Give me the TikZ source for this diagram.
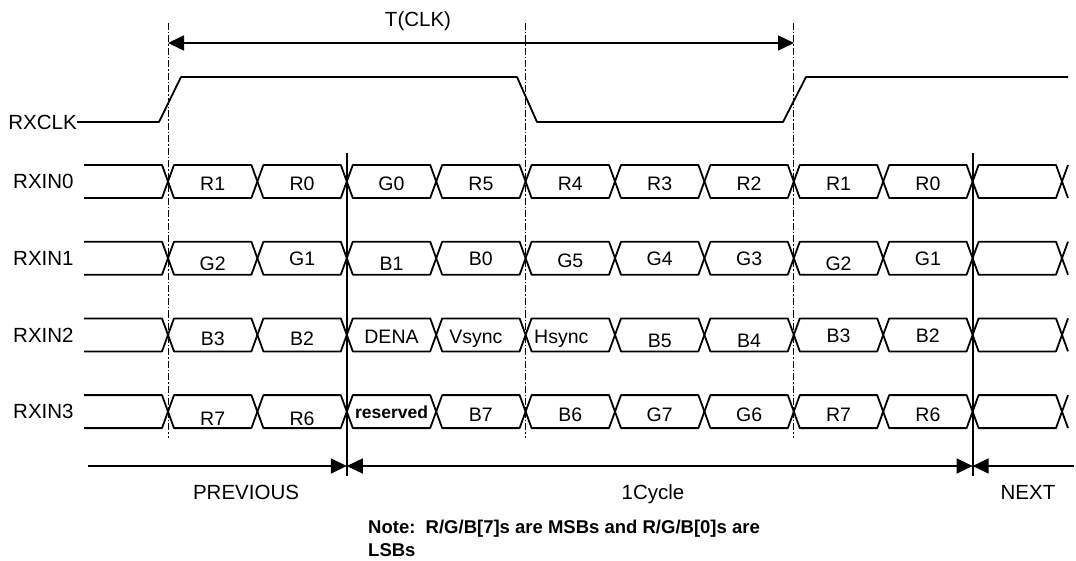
\documentclass[tikz,border=0pt]{standalone}
\usepackage{fontspec}
\setmainfont{Liberation Sans}
\usetikzlibrary{arrows.meta,calc}

\tikzset{
  wave/.style={line width=1.8pt, line join=round},
  marker/.style={line width=1pt, dash pattern=on 7pt off 2pt on 1.5pt off 2pt},
  border/.style={line width=1.8pt},
  span/.style={line width=1.6pt},
  sig/.style={inner sep=0pt, font=\fontsize{20.5}{24}\selectfont},
  cell/.style={inner sep=0pt, anchor=base, font=\fontsize{19.5}{22}\selectfont},
  note/.style={inner sep=0pt, anchor=north west, align=left, font=\fontsize{18.5}{23}\selectfont\bfseries}
}

\begin{document}
\begin{tikzpicture}[x=1pt, y=-1pt, >={Triangle[length=16pt,width=15pt]}]
\useasboundingbox (0,0) rectangle (1076,561);

\node[sig, anchor=east] (clk) at (77,122) {RXCLK};
\draw[wave] (clk.east) -- (159,122) -- (181,77) -- (517,77) -- (537,122) -- (783,122) -- (806,77) -- (1068,77);

\foreach \k in {0,4,7}
  \draw[marker] (168+89.4*\k,23) -- (168+89.4*\k,438);

\coordinate (tl) at (168,43);
\coordinate (tr) at (794,43);
\draw[span, <->] (tl) -- (tr);
\node[sig, anchor=base] (tclk) at (418,27) {T(CLK)};

\foreach \r/\name in {0/RXIN0,1/RXIN1,2/RXIN2,3/RXIN3} {
  \pgfmathsetmacro{\yc}{181.5+76.7*\r}
  \node[sig, anchor=west] (in\r) at (13,\yc) {\name};
  \draw[wave] (84,\yc-16.5) -- (162,\yc-16.5) -- (168,\yc) -- (162,\yc+16.5) -- (84,\yc+16.5);
  \foreach \k in {0,...,9} {
    \pgfmathsetmacro{\a}{168+89.4*\k}
    \pgfmathsetmacro{\b}{\a+89.4}
    \draw[wave] (\a,\yc) -- (\a+6,\yc-16.5) -- (\b-6,\yc-16.5) -- (\b,\yc) -- (\b-6,\yc+16.5) -- (\a+6,\yc+16.5) -- cycle;
  }
  \draw[wave] (1068,\yc-16.5) -- (1062,\yc) -- (1068,\yc+16.5);
}

\foreach \txt/\dy [count=\k from 0] in {R1/9,R0/9,G0/9,R5/9,R4/9,R3/9,R2/9,R1/9,R0/9}
  \node[cell] (a\k) at (212.7+89.4*\k,181.5+\dy) {\txt};
\foreach \txt/\dy [count=\k from 0] in {G2/12,G1/7,B1/12,B0/7,G5/9,G4/7,G3/7,G2/12,G1/7}
  \node[cell] (b\k) at (212.7+89.4*\k,258.2+\dy) {\txt};
\foreach \txt/\dx/\dy [count=\k from 0] in {B3/0/11,B2/0/11,DENA/0/9,Vsync/-5/9,Hsync/-9/9,B5/0/13,B4/0/13,B3/0/8,B2/0/8}
  \node[cell] (c\k) at (212.7+89.4*\k+\dx,334.9+\dy) {\txt};
\foreach \txt/\dy [count=\k from 0] in {R7/14,R6/14,{\bfseries\fontsize{17.5}{20}\selectfont reserved}/7,B7/10,B6/10,G7/10,G6/10,R7/10,R6/10}
  \node[cell] (d\k) at (212.7+89.4*\k,411.6+\dy) {\txt};

\foreach \k in {2,9}
  \draw[border] (168+89.4*\k,153) -- (168+89.4*\k,476);

\coordinate (p0) at (88,466);
\coordinate (p1) at (346.8,466);
\coordinate (p2) at (972.6,466);
\coordinate (p3) at (1074,466);
\draw[span, ->] (p0) -- (p1);
\draw[span, <->] (p1) -- (p2);
\draw[span, ->] (p3) -- (p2);

\node[sig, anchor=base] (prev) at (246,499) {PREVIOUS};
\node[sig, anchor=base] (cyc) at (653,499) {1Cycle};
\node[sig, anchor=base] (next) at (1028,499) {NEXT};

\node[note] (note) at (368,520) {Note:\ \ R/G/B[7]s are MSBs and R/G/B[0]s are\\LSBs};
\end{tikzpicture}
\end{document}
